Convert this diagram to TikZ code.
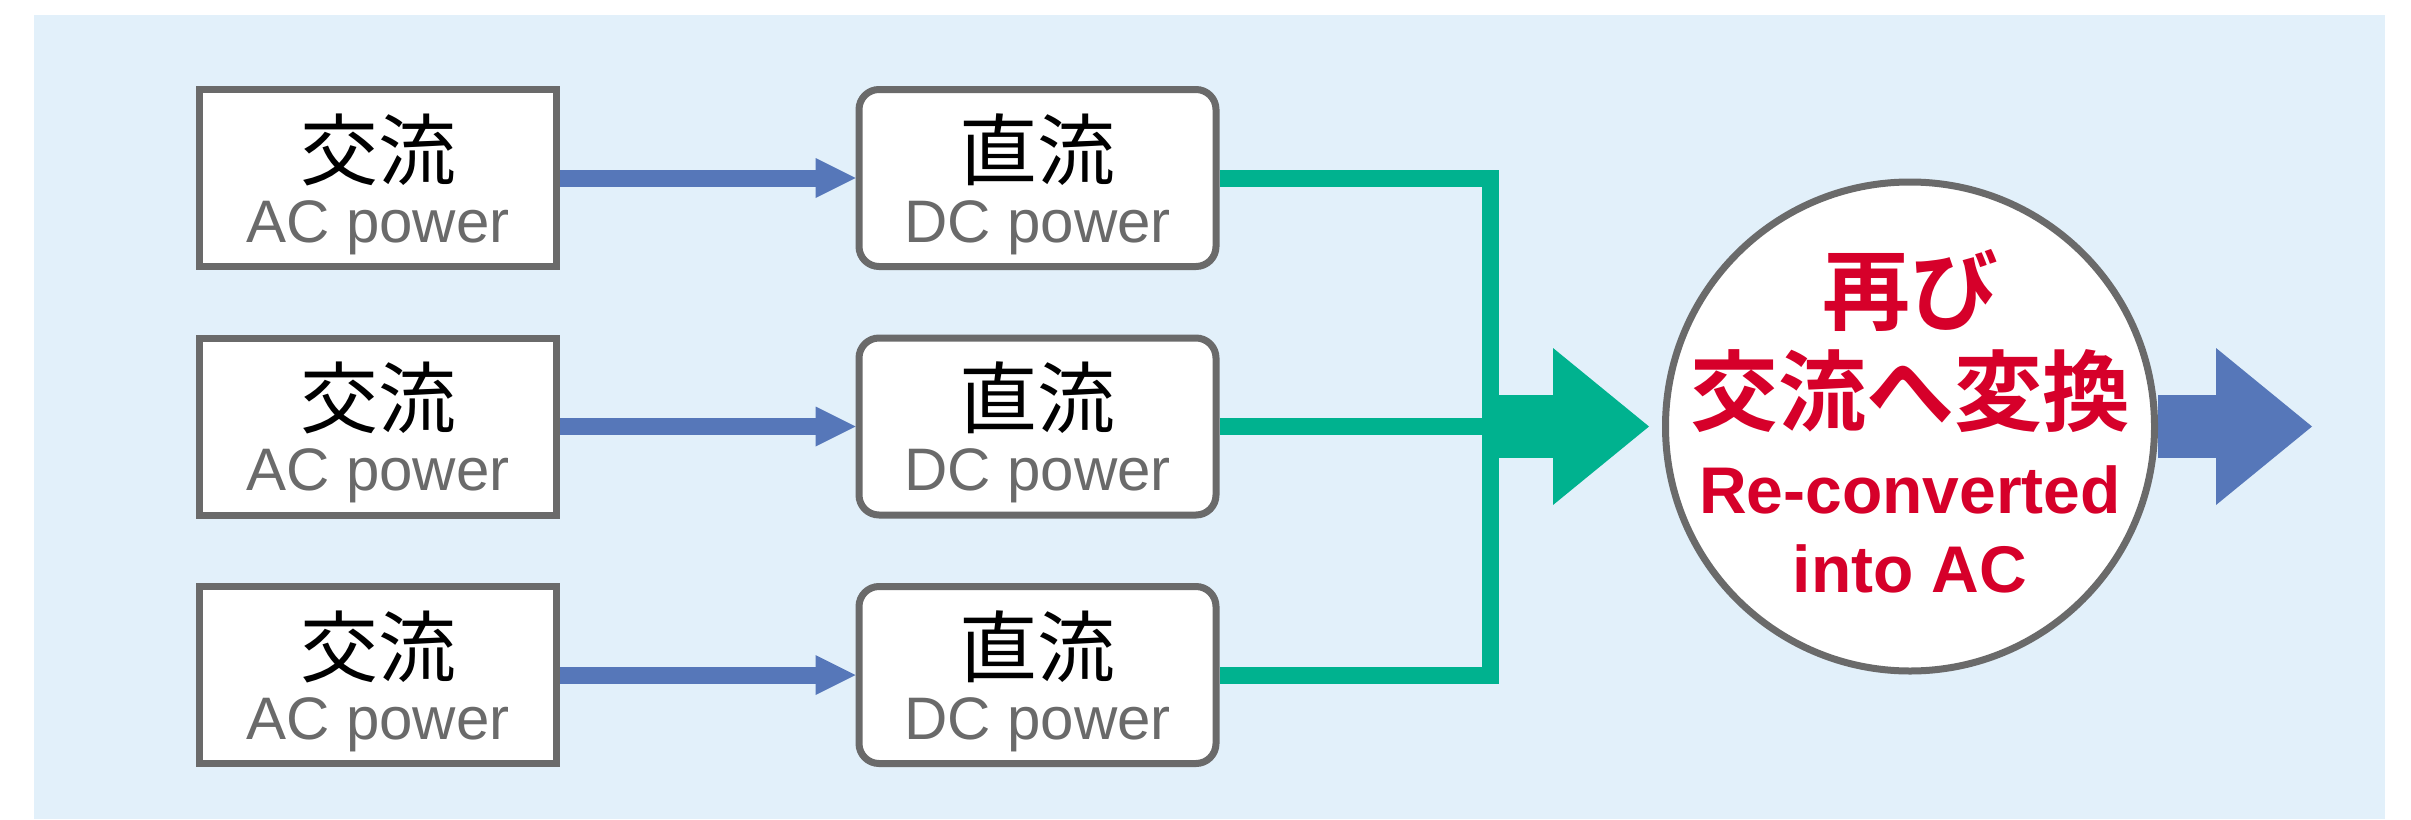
\documentclass[tikz,border=0pt]{standalone}
\usepackage{fontspec}
\setmainfont{Liberation Sans}
\newfontfamily\cjk{Noto Sans CJK JP}
\newfontfamily\cjkbf{Noto Sans CJK JP Bold}
\usetikzlibrary{arrows.meta,calc}

\definecolor{panel}{HTML}{E2F0FA}
\definecolor{flowblue}{HTML}{5677B9}
\definecolor{busgreen}{HTML}{00B28F}
\definecolor{alertred}{HTML}{D6002A}
\definecolor{edgegray}{HTML}{6A6A6A}

\pgfdeclarelayer{back}
\pgfdeclarelayer{links}
\pgfsetlayers{back,links,main}

\begin{document}
\begin{tikzpicture}[x=1pt,y=-1pt,
  acbox/.style={draw=edgegray,fill=white,line width=7pt,minimum width=357pt,minimum height=177pt,inner sep=0pt},
  dcbox/.style={acbox,rounded corners=20pt},
  hub/.style={circle,draw=edgegray,fill=white,line width=7pt,minimum size=489pt,inner sep=0pt},
  jtext/.style={anchor=base,inner sep=0pt,font=\cjk\fontsize{78}{80}\selectfont,text=black},
  etext/.style={anchor=base,inner sep=0pt,font=\fontsize{60}{66}\selectfont,text=edgegray},
  rjtext/.style={anchor=base,inner sep=0pt,font=\cjkbf\fontsize{88}{90}\selectfont,text=alertred},
  retext/.style={anchor=base,inner sep=0pt,font=\bfseries\fontsize{66}{70}\selectfont,text=alertred},
  feed/.style={draw=flowblue,line width=17pt,-{Triangle[length=40pt,width=40pt,line width=0pt]}},
  bus/.style={draw=busgreen,line width=17pt,line join=miter},
  bigflow/.style={line width=63pt,-{Triangle[length=96pt,width=157pt,line width=0pt]}}
]
\useasboundingbox (0,0) rectangle (2411,819);
\begin{pgfonlayer}{back}
  \fill[panel] (34,15) rectangle (2385,819);
\end{pgfonlayer}

% three AC -> DC rows
\foreach \i/\y in {1/178,2/426.5,3/675}{
  \node[acbox] (ac\i) at (378,\y) {};
  \node[dcbox] (dc\i) at (1037.5,\y) {};
  \node[jtext] (acj\i) at ($(ac\i.center)+(0,1)$) {交流};
  \node[etext] (ace\i) at ($(ac\i.center)+(0,64)$) {AC power};
  \node[jtext] (dcj\i) at ($(dc\i.center)+(0,1)$) {直流};
  \node[etext] (dce\i) at ($(dc\i.center)+(0,64)$) {DC power};
  \begin{pgfonlayer}{links}
    \draw[feed] (ac\i.east) -- (dc\i.west);
  \end{pgfonlayer}
}

% conversion back to AC
\node[hub] (hub) at (1910,426.5) {};
\node[rjtext] (r1) at (1910,323) {再び};
\node[rjtext] (r2) at (1910,424) {交流へ変換};
\node[retext] (r3) at (1910,513) {Re-converted};
\node[retext] (r4) at (1910,592) {into AC};

\coordinate (jt) at (1490.5,178);
\coordinate (jm) at (1490.5,426.5);
\coordinate (jb) at (1490.5,675);
\coordinate (out) at (2312,426.5);

\begin{pgfonlayer}{links}
  \draw[bus] (dc1.east) -- (jt) -- (jb) -- (dc3.east);
  \draw[bus] (dc2.east) -- (jm);
  \draw[bigflow,draw=busgreen,fill=busgreen,shorten >=13pt] (jm) -- (hub.west);
  \draw[bigflow,draw=flowblue,fill=flowblue] (hub.east) -- (out);
\end{pgfonlayer}
\end{tikzpicture}
\end{document}
